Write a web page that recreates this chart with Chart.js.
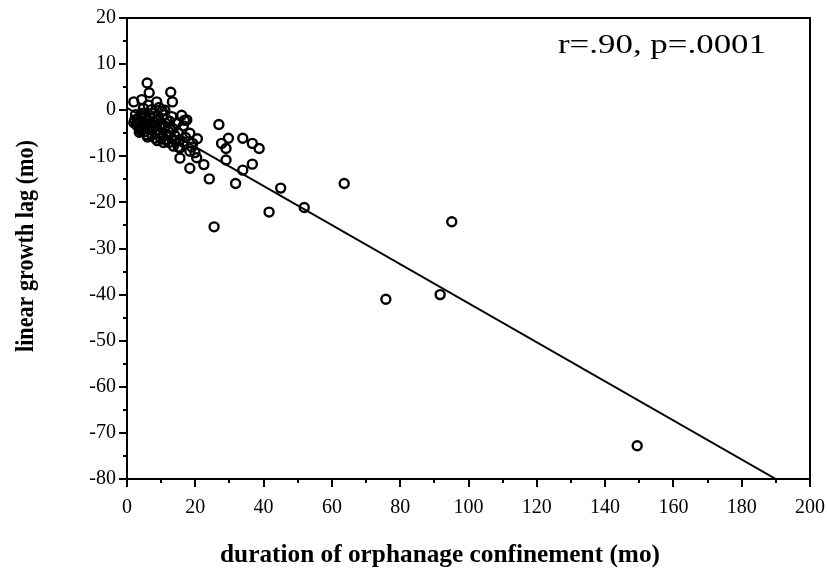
<!DOCTYPE html>
<html><head><meta charset="utf-8">
<script src="https://cdn.jsdelivr.net/npm/chart.js@4"></script>
<style>html,body{margin:0;padding:0;background:#fff;overflow:hidden}</style>
</head><body>
<canvas id="c" width="827" height="577" style="width:827px;height:577px;display:block"></canvas>
<script>
// ---- data ----
const confinementMonths = [
  2.0, 2.3, 2.0, 2.8, 3.2, 3.5, 3.8, 4.3, 4.3, 4.0, 4.6, 4.8, 5.2, 5.0, 5.8, 5.3,
  6.2, 5.9, 6.5, 6.2, 6.6, 6.8, 7.2, 7.3, 7.7, 7.6, 8.2, 8.2, 8.7, 8.7, 8.9, 9.2,
  9.4, 9.7, 10.1, 10.3, 10.4, 10.7, 11.1, 11.2, 11.3, 11.6, 12.1, 12.6, 12.8, 13.3,
  12.3, 13.1, 13.6, 14.0, 14.5, 15.0, 15.5, 15.5, 15.5, 16.0, 16.5, 17.5, 17.1, 18.4,
  18.4, 18.4, 19.9, 20.6, 20.4, 19.2, 22.5, 24.1, 25.5, 26.9, 27.7, 29.0, 29.7, 29.0,
  31.8, 33.9, 33.9, 36.7, 36.7, 38.7, 41.6, 45.0, 51.9, 63.6, 75.8, 91.7, 95.1, 149.4,
  2.5, 3.0, 3.6, 4.4, 5.5, 6.0, 7.0, 8.0, 8.4, 9.6, 9.9, 10.8, 11.8, 12.5, 14.2, 16.4,
  15.0, 19.0, 16.8, 13.5
];
const growthLagMonths = [
  1.8, -2.1, -2.7, -3.2, -1.9, -3.9, -3.6, 2.3, -0.7, -4.4, -2.6, 0.4, -1.7, -3.4, -5.3, -4.6,
  1.1, 5.9, 3.8, -3.0, -1.2, -4.2, 0.1, -5.4, -0.7, -2.5, -3.4, -6.1, 1.8, -4.3, -6.6, -1.9,
  0.6, -5.0, -3.0, -0.2, -5.6, -7.0, 0.0, -6.4, -3.5, -2.0, -4.6, -3.9, 3.9, 1.8,
  -7.0, -1.4, -7.8, -5.5, -2.9, -4.9, -6.4, -8.2, -10.4, -1.1, -3.4, -2.1, -5.9, -5.0,
  -8.9, -12.6, -9.2, -6.2, -10.3, -7.2, -11.8, -14.9, -25.3, -3.1, -7.2, -8.3, -6.1, -10.8,
  -15.9, -6.1, -13.0, -7.2, -11.7, -8.3, -22.1, -16.9, -21.1, -15.9, -41.0, -40.0, -24.2, -72.8,
  -1.0, -2.6, -4.8, -1.2, -2.2, -5.8, -3.0, -1.4, -4.8, -3.6, -6.2, -1.0, -5.3, -2.4, -6.6, -6.9,
  -8.0, -8.0, -2.2, -4.0
];
const fitLineX = [0, 190];
const fitLineY = [0.5, -80];
const xTickLabels = ['0','20','40','60','80','100','120','140','160','180','200'];
const yTickLabels = ['20','10','0','-10','-20','-30','-40','-50','-60','-70','-80'];
const annotationText = 'r=.90, p=.0001';
const xAxisTitle = 'duration of orphanage confinement (mo)';
const yAxisTitle = 'linear growth lag (mo)';

const scatterPoints = confinementMonths.map((x, i) => ({x: x, y: growthLagMonths[i]}));
const linePoints = fitLineX.map((x, i) => ({x: x, y: fitLineY[i]}));

const SERIF = '"Liberation Serif", "Times New Roman", serif';

const framePlugin = {
  id: 'frame',
  afterDraw(chart) {
    const ctx = chart.ctx, a = chart.chartArea;
    const xs = chart.scales.x, ys = chart.scales.y;
    ctx.save();
    ctx.strokeStyle = '#000';
    ctx.lineWidth = 2;
    ctx.strokeRect(a.left, a.top, a.right - a.left, a.bottom - a.top);
    ctx.beginPath();
    for (let v = ys.min; v <= ys.max + 1e-9; v += 5) {
      const p = Math.round(ys.getPixelForValue(v));
      const major = Math.abs(v % 10) < 1e-9;
      ctx.moveTo(a.left, p); ctx.lineTo(a.left - (major ? 8 : 4), p);
    }
    for (let v = xs.min; v <= xs.max + 1e-9; v += 10) {
      const p = Math.round(xs.getPixelForValue(v));
      const major = Math.abs(v % 20) < 1e-9;
      ctx.moveTo(p, a.bottom); ctx.lineTo(p, a.bottom + (major ? 8 : 4));
    }
    ctx.stroke();
    ctx.fillStyle = '#000';
    ctx.font = '28px ' + SERIF;
    ctx.textBaseline = 'middle';
    ctx.textAlign = 'left';
    let w = ctx.measureText(annotationText).width;
    ctx.save();
    ctx.translate(558, 46);
    ctx.scale(208 / w, 1);
    ctx.fillText(annotationText, 0, 0);
    ctx.restore();
    ctx.font = 'bold 26px ' + SERIF;
    ctx.textAlign = 'center';
    w = ctx.measureText(xAxisTitle).width;
    ctx.save();
    ctx.translate(440, 555);
    ctx.scale(440 / w, 1);
    ctx.fillText(xAxisTitle, 0, 0);
    ctx.restore();
    ctx.font = 'bold 25px ' + SERIF;
    ctx.save();
    ctx.translate(27, 246);
    ctx.rotate(-Math.PI / 2);
    w = ctx.measureText(yAxisTitle).width;
    ctx.scale(212 / w, 1);
    ctx.fillText(yAxisTitle, 0, 0);
    ctx.restore();
    ctx.restore();
  }
};

new Chart(document.getElementById('c'), {
  type: 'scatter',
  data: {
    datasets: [
      {
        data: scatterPoints,
        pointStyle: 'circle',
        pointRadius: 4.5,
        pointHoverRadius: 4.5,
        pointBorderWidth: 2.4,
        pointBorderColor: '#000',
        pointBackgroundColor: 'rgba(0,0,0,0)',
        order: 1
      },
      {
        type: 'line',
        data: linePoints,
        showLine: true,
        borderColor: '#000',
        borderWidth: 2,
        pointRadius: 0,
        fill: false,
        order: 2
      }
    ]
  },
  plugins: [framePlugin],
  options: {
    responsive: false,
    animation: false,
    events: [],
    layout: { padding: { top: 18, right: 17, left: 0, bottom: 0 } },
    plugins: { legend: { display: false }, tooltip: { enabled: false } },
    scales: {
      x: {
        type: 'linear', min: 0, max: 200,
        grid: { display: false, drawTicks: false },
        border: { display: false },
        ticks: {
          stepSize: 20, padding: 17, color: '#000', maxRotation: 0,
          font: { family: SERIF, size: 20 },
          callback: (v, i) => xTickLabels[i]
        },
        afterFit: s => { s.height = 98; s.paddingLeft = 0; s.paddingRight = 0; }
      },
      y: {
        type: 'linear', min: -80, max: 20,
        grid: { display: false, drawTicks: false },
        border: { display: false },
        ticks: {
          stepSize: 10, padding: 11, color: '#000',
          font: { family: SERIF, size: 20 },
          callback: (v, i, ticks) => yTickLabels[ticks.length - 1 - i]
        },
        afterFit: s => { s.width = 127; s.paddingTop = 0; s.paddingBottom = 0; }
      }
    }
  }
});
</script>
</body></html>
